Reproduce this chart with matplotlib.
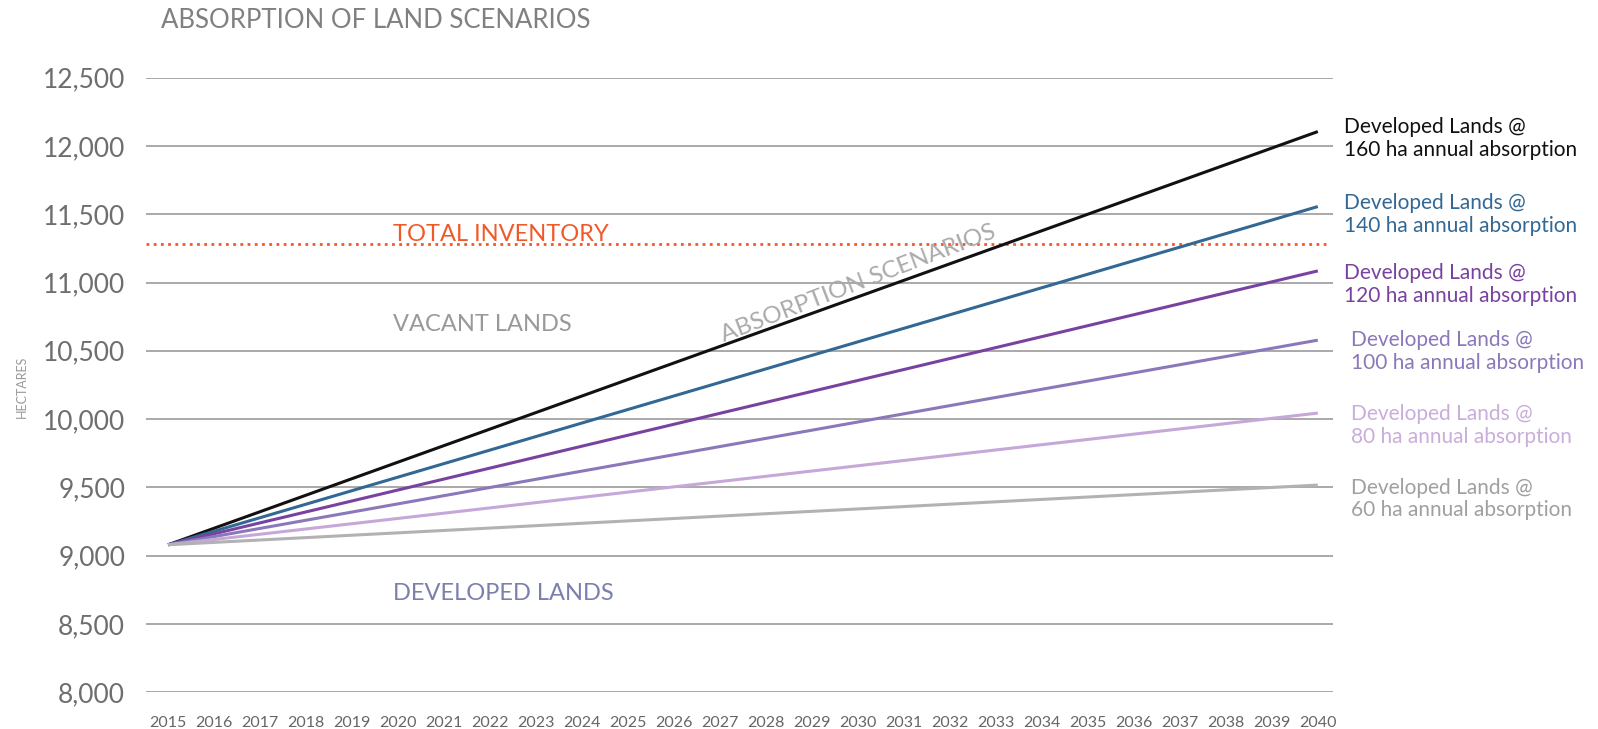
import matplotlib
matplotlib.use("Agg")
import matplotlib.pyplot as plt

# ---- data ----
years = list(range(2015, 2041))
start_year = 2015
end_year = 2040
start_value = 9080
scenario_rates = [160, 140, 120, 100, 80, 60]            # ha annual absorption (label)
scenario_end_values = [12105, 11556, 11085, 10578, 10044, 9517]  # at 2040
scenario_colors = ["#111111", "#336894", "#7a42a0", "#8b78bb", "#c6a8d8", "#b2b2b2"]
label_colors = ["#111111", "#336894", "#7a42a0", "#8b78bb", "#c9aedb", "#a0a0a0"]
total_inventory = 11282
yticks = [8000, 8500, 9000, 9500, 10000, 10500, 11000, 11500, 12000, 12500]

FONT = ["Lato", "DejaVu Sans"]
plt.rcParams["font.family"] = FONT

fig = plt.figure(figsize=(15.98, 7.29), dpi=100)
ax = fig.add_axes([146/1598, 1-692.3/729, (1333-146)/1598, (692.3-77.6)/729])

ax.set_xlim(2014.52, 2040.33)
ax.set_ylim(8000, 12500)

for v in yticks:
    ax.axhline(v, color="#a3a3a3", lw=1.3, zorder=1)

ax.axhline(total_inventory, color="#f05a28", lw=2, ls=(0, (1, 1.6)), zorder=2,
           xmax=0.997)

offs = [(19, -5), (19, -6), (19, -10), (24, -8), (24, -9), (24, -10)]
for rate, endv, c, lc, off in zip(scenario_rates, scenario_end_values, scenario_colors, label_colors, offs):
    ax.plot([start_year, end_year], [start_value, endv], color=c, lw=2.2, zorder=3,
            solid_capstyle="butt")
    ax.annotate(f"Developed Lands @\n{rate} ha annual absorption", xy=(end_year, endv),
                xytext=off, textcoords="offset points", ha="left", va="center",
                fontsize=15, color=lc, linespacing=1.18, annotation_clip=False)

ax.set_yticks(yticks)
ax.set_yticklabels([f"{v:,}" for v in yticks], fontsize=19, color="#6e6e6e")
ax.set_xticks(years)
ax.set_xticklabels([str(y) for y in years], fontsize=11.5, color="#666666")
ax.tick_params(axis="both", length=0)
ax.tick_params(axis="y", pad=15)
ax.tick_params(axis="x", pad=17)
for s in ax.spines.values():
    s.set_visible(False)

title = fig.text(161/1598, 1-20.5/729, "ABSORPTION OF LAND SCENARIOS", fontsize=18.5,
                 color="#808080", va="center", ha="left")
fig.text(22/1598, 1-387/729, "HECTARES", fontsize=9, color="#999999", rotation=90,
         va="center", ha="center")

ax.text(2019.9, 11350, "TOTAL INVENTORY", fontsize=17, color="#f05a28", ha="left", va="center")
ax.text(2019.9, 10690, "VACANT LANDS", fontsize=17, color="#999999", ha="left", va="center")
ax.text(2019.9, 8720, "DEVELOPED LANDS", fontsize=17, color="#7b7fae", ha="left", va="center")
ax.text(2030.0, 10990, "ABSORPTION SCENARIOS", fontsize=17.5, color="#aaaaaa", ha="center",
        va="center", rotation=21)

fig.savefig("out.png", dpi=100)
